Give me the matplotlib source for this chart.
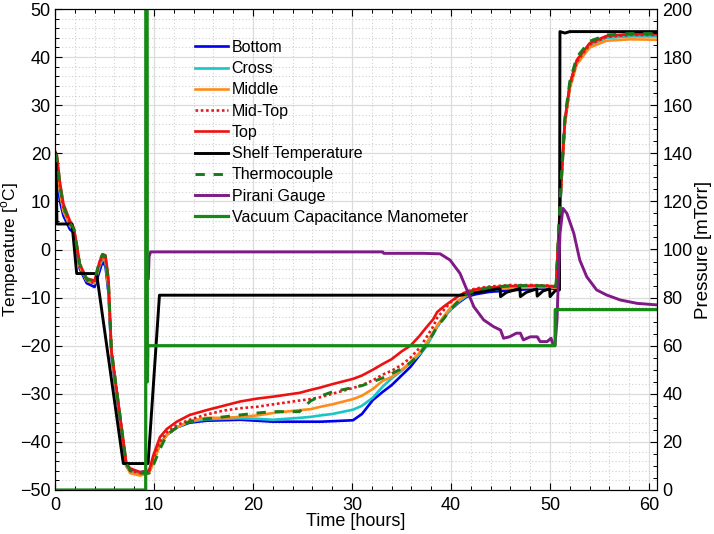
import matplotlib
matplotlib.use("Agg")
import matplotlib.pyplot as plt
from matplotlib.ticker import MultipleLocator

plt.rcParams['font.family'] = ['Liberation Sans', 'DejaVu Sans']
plt.rcParams['mathtext.fontset'] = 'custom'
plt.rcParams['mathtext.rm'] = 'Liberation Sans'

# ---------------- data ----------------
# common time grid for the product probes [hours]
t_probe = [0, 0.2, 0.5, 0.85, 1.5, 1.9, 2.2, 2.5, 3.2, 4.0, 4.5, 4.8, 5.1, 5.4, 5.7, 6.5,
           7.2, 7.6, 8.6, 9.5, 9.9, 10.6, 11.3, 12.3, 13.6, 15.3, 17, 18.7, 20.4, 22, 24.7,
           25.8, 26.8, 28, 30.1, 31, 32.1, 33.1, 34, 35, 35.9, 36.8, 37.5, 38.2, 38.6, 39.3,
           39.9, 40.8, 41.6, 42.5, 43.9, 46, 48.3, 50.0, 50.6, 50.85, 51.2, 51.5, 52.0, 52.7,
           54.0, 55.7, 58.1, 61]

bottom = [19, 15, 10, 7, 4.2, 3.5, 0, -4, -7, -7.8, -4.5, -2.5, -3.5, -9, -22, -34.5,
          -45, -46, -46.3, -46, -44, -40.5, -38.5, -37, -36, -35.6, -35.5, -35.4, -35.6, -35.8, -35.8,
          -35.8, -35.8, -35.7, -35.5, -34.2, -31.3, -29.6, -28.2, -26.2, -24.4, -22, -20, -17.4, -16, -14,
          -12.6, -11, -9.8, -9.3, -8.8, -8.5, -8.2, -8.1, -8.2, 2, 16, 26.5, 34, 39,
          42.6, 44.2, 44.5, 44.5]

cross = [19.5, 17, 12, 8, 5, 4, 0.5, -3.5, -6.5, -7, -3.5, -2, -2.5, -8, -21.5, -34,
         -45, -46.3, -46.5, -46.3, -44.3, -40.5, -38.5, -37, -35.8, -35.3, -35.2, -35.1, -35.2, -35.4, -35,
         -34.8, -34.5, -34.2, -33.3, -32.5, -30.8, -28.5, -26.8, -25.2, -23.6, -21.8, -20.2, -17.5, -16, -14,
         -12.6, -10.8, -9.6, -8.9, -8.4, -8, -7.8, -7.8, -8, 2, 16, 26.5, 34, 39,
         42.5, 44, 44.3, 44.3]

middle = [19.5, 17, 12, 8, 5, 4, 0.5, -3.5, -6.5, -7, -3, -1.5, -2, -8, -21.5, -34,
          -45, -46.5, -47, -46.5, -44.5, -40.5, -38.5, -37, -35.6, -35, -35, -34.8, -34.5, -34, -33.4,
          -33.2, -32.7, -32.2, -31.1, -30.4, -29, -27.3, -26.5, -25, -23.5, -21.5, -19.5, -17.2, -15.8, -13.8,
          -12.2, -10.5, -9.4, -8.7, -8.2, -7.9, -7.8, -7.8, -8, 2, 16, 26, 33.5, 38.5,
          42, 43.4, 43.7, 43.6]

mid_top = [20, 18, 13, 8.5, 5.5, 4.2, 0.5, -3.5, -6.5, -7, -3, -1.5, -1.8, -7, -21, -33.5,
           -44.5, -46, -46.5, -46.2, -43.5, -40, -38, -36.5, -35.4, -34.3, -33.5, -33, -32.7, -32.2, -31.4,
           -31.1, -30.7, -30, -28.8, -28.2, -27.2, -26, -25.2, -24, -22.5, -20.5, -18.3, -16, -14.2, -12.5,
           -11.1, -9.6, -8.7, -8.1, -7.7, -7.4, -7.4, -7.5, -7.8, 2.5, 16.5, 26.5, 34, 39,
           42.6, 44.2, 44.6, 44.6]

top = [20.5, 19.5, 14, 9.5, 6, 4.5, 1, -3, -6, -6.5, -2.5, -1, -1.2, -6, -21, -33.5,
       -44.5, -45.5, -46.3, -46, -43, -39, -37.3, -35.8, -34.4, -33.4, -32.5, -31.6, -31, -30.6, -29.8,
       -29.2, -28.7, -28, -26.9, -26.2, -25, -23.8, -22.8, -21.2, -20, -18, -16.2, -14.5, -13, -11.8,
       -10.9, -9.6, -8.8, -8.3, -7.9, -7.6, -7.5, -7.6, -7.8, 3, 17, 27, 34.5, 39.4,
       42.9, 44.4, 44.8, 44.8]

thermocouple = [20, 19, 13.5, 9, 5.5, 4.3, 0.8, -3, -6.2, -6.5, -2.3, -1, -1.5, -7, -21, -33.5,
                -44.5, -46, -46.5, -46.5, -45, -41.5, -38.5, -37, -35.8, -35.2, -34.8, -34.4, -34, -33.7, -33.7,
                -31.5, -30.5, -29.6, -28.7, -28.3, -27.5, -26.7, -25.8, -24.8, -23.5, -21.8, -19.8, -17.5, -16, -14.3,
                -12.6, -10.6, -9.3, -8.5, -7.9, -7.5, -7.5, -7.6, -7.5, 3.5, 17.5, 27.5, 35, 40,
                43.3, 44.6, 44.9, 44.9]

# shelf temperature
t_shelf = [0, 0.08, 0.2, 1.72, 2.19, 4.2, 6.9, 9.4, 10.55, 41, 43, 44.95, 45.0, 45.6, 46.95, 47.0,
           47.6, 48.65, 48.7, 49.3, 49.95, 50.0, 50.5, 50.95, 51.0, 51.5, 52, 61]
shelf = [20, 20, 5.3, 5.3, -5, -5, -44.5, -44.5, -9.5, -9.5, -8.8, -8.1, -9.8, -8.9, -8.1, -9.8,
         -8.9, -8.2, -9.7, -8.6, -8.2, -9.8, -8.6, -8.4, 45.3, 45.0, 45.3, 45.3]

# Pirani gauge [mTorr]
t_pirani = [9.43, 9.5, 9.65, 33.1, 33.2, 37.2, 38.9, 39.9, 40.9, 41.6, 42.3, 43.3, 44.3, 45.0, 45.3,
            45.9, 46.6, 47.0, 47.3, 48.0, 48.7, 49.0, 49.7, 50.1, 50.3, 50.5, 50.7, 51.0, 51.3, 51.7,
            52.4, 53.0, 53.7, 54.7, 55.7, 57.1, 58.8, 61]
pirani = [88, 97, 99, 99, 98.4, 98.4, 98.2, 95.6, 90.1, 83.2, 76.2, 70.7, 67.9, 66.5, 63.1,
          63.7, 65.2, 65.2, 62.4, 63.7, 63.7, 61.7, 61.7, 63.1, 60.5, 60.3, 70.7, 106.7, 117.1, 115,
          106.7, 95.6, 88.7, 83.2, 81.1, 79, 77.6, 76.9]

# vacuum capacitance manometer [mTorr]
t_vac = [0, 9.16, 9.17, 9.3, 9.33, 9.38, 50.5, 50.52, 61]
vac = [0, 0, 260, 260, 45, 60, 60, 75, 75]

labels = ['Bottom', 'Cross', 'Middle', 'Mid-Top', 'Top', 'Shelf Temperature',
          'Thermocouple', 'Pirani Gauge', 'Vacuum Capacitance Manometer']

# ---------------- figure ----------------
W, H = 714, 534
fig = plt.figure(figsize=(W / 100, H / 100), dpi=100)
x0, x1, y0, y1 = 55, 657, 9, 490
ax = fig.add_axes([x0 / W, 1 - y1 / H, (x1 - x0) / W, (y1 - y0) / H])
ax2 = ax.twinx()

lw = 1.9
h = []
h += ax.plot(t_probe, bottom, color='#0000ee', lw=lw)
h += ax.plot(t_probe, cross, color='#19c6c6', lw=lw)
h += ax.plot(t_probe, middle, color='#ff8c1a', lw=lw)
h += ax.plot(t_probe, mid_top, color='#e8191e', lw=lw, linestyle=(0, (1, 1)))
h += ax.plot(t_probe, top, color='#ee1111', lw=lw)
h += ax.plot(t_shelf, shelf, color='black', lw=2.1)
h += ax.plot(t_probe, thermocouple, color='#1a7a1a', lw=2.1, linestyle=(0, (3.2, 3)))
h += ax2.plot(t_pirani, pirani, color='#7f1a87', lw=2.1)
h += ax2.plot(t_vac, vac, color='#158a15', lw=2.3)

ax.set_xlim(0, 60.8)
ax.set_ylim(-50, 50)
ax2.set_ylim(0, 200)

ax.xaxis.set_major_locator(MultipleLocator(10))
ax.xaxis.set_minor_locator(MultipleLocator(2))
ax.yaxis.set_major_locator(MultipleLocator(10))
ax.yaxis.set_minor_locator(MultipleLocator(2))
ax2.yaxis.set_major_locator(MultipleLocator(20))
ax2.yaxis.set_minor_locator(MultipleLocator(5))

ax.grid(which='major', color='#dcdcdc', lw=0.9, ls='-')
ax.grid(which='minor', color='#d0d0d0', lw=0.8, ls=(0, (1, 2)))
ax.set_axisbelow(True)

ax.tick_params(axis='x', which='both', direction='in', top=True, labelsize=13, pad=5)
ax.tick_params(axis='y', which='both', direction='in', right=False, labelsize=13, pad=3)
ax2.tick_params(axis='y', which='both', direction='in', labelsize=13, pad=4)
for a in (ax, ax2):
    a.tick_params(which='major', length=5, width=0.8)
    a.tick_params(which='minor', length=3, width=0.7)

ax.set_xlabel('Time [hours]', fontsize=13, va='center')
ax.xaxis.set_label_coords(0.5, -(521 - y1) / (y1 - y0))
ax.set_ylabel('Temperature [$^{\\mathrm{o}}$C]', fontsize=12.5, va='center')
ax.yaxis.set_label_coords(-(x0 - 10) / (x1 - x0), 0.5)
ax2.set_ylabel('Pressure [mTorr]', fontsize=13.5, va='center', rotation=90)
ax2.yaxis.set_label_coords((703 - x0) / (x1 - x0), 0.5)

leg = ax2.legend(h, labels, loc='upper left',
                 bbox_to_anchor=((195 - x0) / (x1 - x0), 1 - (40 - y0) / (y1 - y0)),
                 frameon=False, fontsize=11.5, handlelength=2.05, handletextpad=0.25,
                 labelspacing=0.39, borderpad=0, borderaxespad=0)

fig.savefig('out.png', dpi=100)
